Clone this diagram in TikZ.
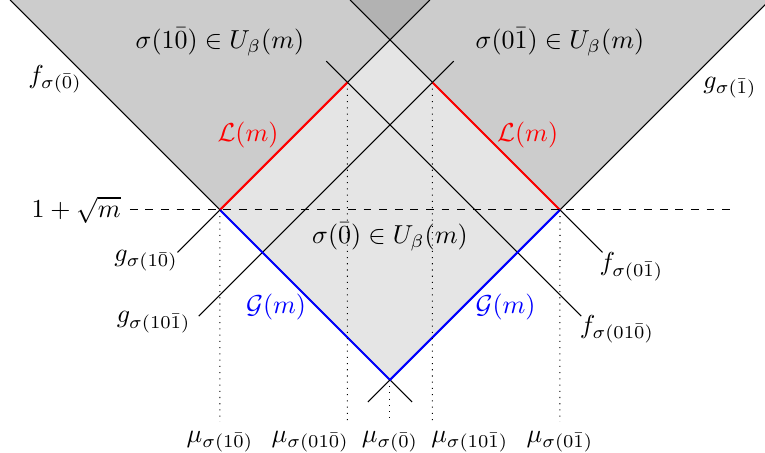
\documentclass[tikz,border=0pt]{standalone}
\usepackage{amsmath,amssymb}

\begin{document}
\begin{tikzpicture}[scale=2.3]
    \clip (-2.294,-1.424) rectangle (2.206,1.235);

    \coordinate (L) at (-1,0);
    \coordinate (R) at (1,0);
    \coordinate (B) at (0,-1);
    \coordinate (T) at (0,1);
    \coordinate (Lm) at (-0.25,0.75);
    \coordinate (Rm) at (0.25,0.75);

    % shaded regions
    \fill[gray!40] (-2.235,1.235) -- (L) -- (0.235,1.235) -- cycle;
    \fill[gray!40] (2.235,1.235) -- (R) -- (-0.235,1.235) -- cycle;
    \fill[gray!60] (-0.235,1.235) -- (T) -- (0.235,1.235) -- cycle;
    \fill[gray!20] (L) -- (T) -- (R) -- (B) -- cycle;

    % lines
    \draw[thin] (-2.235,1.235) -- (0.13,-1.13);
    \draw[thin] (2.235,1.235) -- (-0.13,-1.13);
    \draw[thin] (-1.25,-0.25) -- (0.235,1.235);
    \draw[thin] (1.25,-0.25) -- (-0.235,1.235);
    \draw[thin] (-1.125,-0.625) -- (0.375,0.875);
    \draw[thin] (1.125,-0.625) -- (-0.375,0.875);

    \draw[thick, red] (L) -- (Lm);
    \draw[thick, red] (R) -- (Rm);
    \draw[thick, blue] (L) -- (B) -- (R);

    \draw[dashed] (-1.53,0) node[left] {\(1+\sqrt{m}\)} -- (2.03,0);

    % projections
    \draw[dotted] (L) -- (-1,-1.247)
        node[below] {\(\mu_{\sigma(1\bar 0)}\)};
    \draw[dotted] (Lm) -- (-0.25,-1.247)
        node[below left, xshift=4pt] {\(\mu_{\sigma(01\bar 0)}\)};
    \draw[dotted] (B) -- (0,-1.247)
        node[below] {\(\mu_{\sigma(\bar 0)}\)};
    \draw[dotted] (Rm) -- (0.25,-1.247)
        node[below right, xshift=-4pt] {\(\mu_{\sigma(10\bar 1)}\)};
    \draw[dotted] (R) -- (1,-1.247)
        node[below] {\(\mu_{\sigma(0\bar 1)}\)};

    % labels
    \node (uleft) at (-1,0.988) {\(\sigma(1\bar 0)\in U_\beta(m)\)};
    \node (uright) at (1,0.988) {\(\sigma(0\bar 1)\in U_\beta(m)\)};
    \node (ucenter) at (0,-0.159) {\(\sigma(\bar 0)\in U_\beta(m)\)};

    \node (f0) at (-1.97,0.77) {\(f_{\sigma(\bar 0)}\)};
    \node (g1) at (2.0,0.72) {\(g_{\sigma(\bar 1)}\)};
    \node (g10) at (-1.435,-0.3) {\(g_{\sigma(1\bar 0)}\)};
    \node (g101) at (-1.39,-0.66) {\(g_{\sigma(10\bar 1)}\)};
    \node (f01) at (1.42,-0.335) {\(f_{\sigma(0\bar 1)}\)};
    \node (f010) at (1.335,-0.7) {\(f_{\sigma(01\bar 0)}\)};

    \node[red] (lleft) at (-0.835,0.44) {\(\mathcal{L}(m)\)};
    \node[red] (lright) at (0.81,0.44) {\(\mathcal{L}(m)\)};
    \node[blue] (gleft) at (-0.67,-0.57) {\(\mathcal{G}(m)\)};
    \node[blue] (gright) at (0.68,-0.57) {\(\mathcal{G}(m)\)};
\end{tikzpicture}
\end{document}
